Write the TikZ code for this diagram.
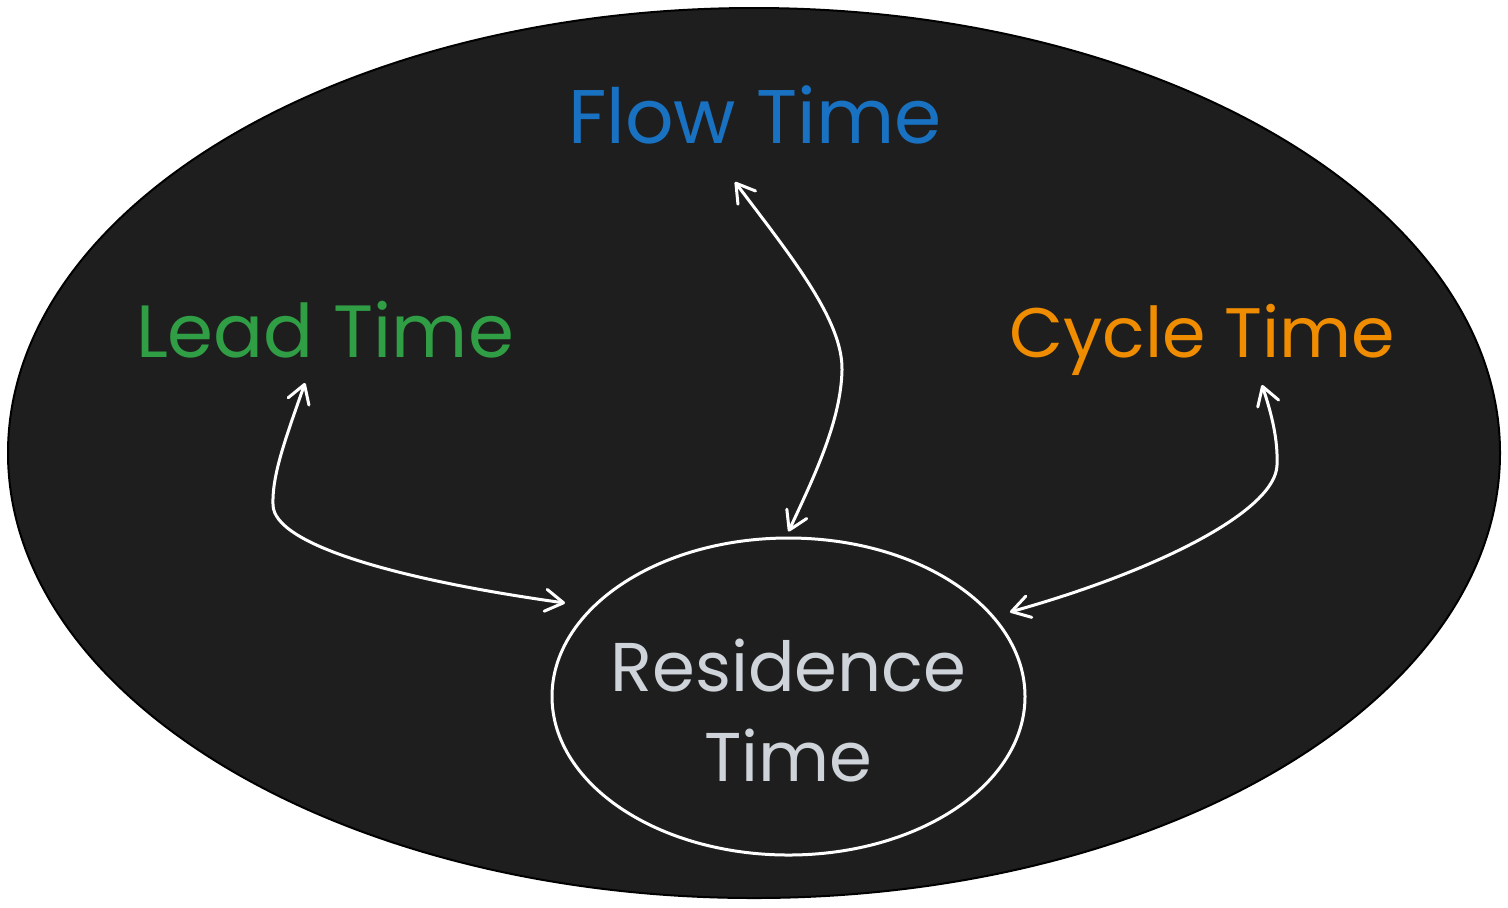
\documentclass[tikz,border=0pt]{standalone}
\usepackage{fontspec}
\setmainfont{Poppins}
\usetikzlibrary{arrows.meta,shapes.geometric}
\definecolor{bgdark}{HTML}{1E1E1E}
\definecolor{flowblue}{HTML}{1971C2}
\definecolor{leadgreen}{HTML}{2F9E44}
\definecolor{cycleorange}{HTML}{F08C00}
\definecolor{resgrey}{HTML}{CED4DA}
\begin{document}
\begin{tikzpicture}[x=0.5pt,y=0.5pt,
    timetext/.style={anchor=base,inner sep=0pt,font=\fontsize{38}{44}\selectfont},
    resnode/.style={draw=white,line width=1.5pt,ellipse,inner sep=0pt,minimum width=236.5pt,minimum height=158.5pt,
      align=center,text=resgrey,font=\fontsize{34.5}{46.5}\selectfont},
    link/.style={white,line width=1.5pt,{Straight Barb[length=9pt,width=11pt,round]}-{Straight Barb[length=9pt,width=11pt,round]}}]
  \useasboundingbox (0,0) rectangle (1508,-907);
  \draw[black,fill=bgdark,line width=1pt] (754,-453) ellipse [x radius=746, y radius=445];
  \node[timetext,text=flowblue]    (flow)  at (755,-143)  {Flow Time};
  \node[timetext,text=leadgreen,font=\fontsize{37}{44}\selectfont] (lead) at (325,-357) {Lead Time};
  \node[timetext,text=cycleorange,font=\fontsize{35}{44}\selectfont] (cycle) at (1202,-357) {Cycle Time};
  \node[resnode] (res) at (788.5,-696.5) {\rule{0pt}{40pt}\makebox[0pt]{Residence}\\[-1.5pt]\makebox[0pt]{Time}};
  \draw[link] ([shift={(-10pt,-19.5pt)}]flow.base) .. controls (790,-255) and (843,-320) .. (842,-370)
    .. controls (841,-420) and (815,-475) .. ([yshift=2.5pt]res.north);
  \draw[link] ([shift={(-10pt,-13pt)}]lead.base) .. controls (285,-440) and (272,-475) .. (273,-505)
    .. controls (274,-545) and (400,-580) .. ([shift={(-111.75pt,46.75pt)}]res.center);
  \draw[link] ([shift={(30pt,-14pt)}]cycle.base) .. controls (1272,-415) and (1278,-440) .. (1277,-465)
    .. controls (1276,-510) and (1160,-570) .. ([shift={(110.75pt,42.25pt)}]res.center);
\end{tikzpicture}
\end{document}
